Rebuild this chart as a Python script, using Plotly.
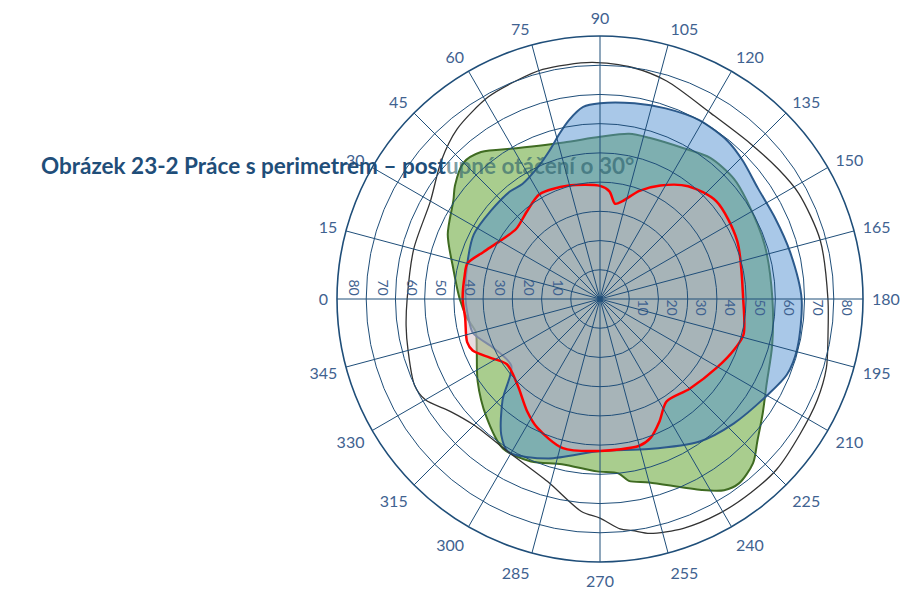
import plotly.graph_objects as go

# ---------------- data ----------------
angle_ticks = list(range(0, 360, 15))
angle_labels = [str(a) for a in angle_ticks]
radial_grid = list(range(10, 100, 10))
radial_label_pos = [14.5, 24.5, 34.5, 44.5, 54.5, 64.5, 74.5, 84.5]
radial_label_text = ["10", "20", "30", "40", "50", "60", "70", "80"]

black_theta = [0, 15, 30, 41, 50, 61, 69, 76, 88, 98, 107, 121, 134, 144, 152, 165, 180,
               189, 197, 205, 214, 224, 232, 241, 250, 258, 262, 265, 270, 275, 286, 301,
               315, 323, 330, 335, 345, 352]
black_r = [66, 66, 67, 72, 76, 79, 80, 81, 81, 80, 78, 74, 74, 75.5, 77, 78, 78,
           79, 81, 82, 82.6, 84, 84, 84, 83.5, 82, 80, 79, 75, 73, 65, 61,
           61, 64, 69, 70, 68, 67]

green_theta = [0, 12, 23, 34, 38, 45, 51, 61, 77, 90, 100, 107, 119, 128, 138, 146, 162,
               180, 195, 207, 215, 222, 227, 233, 237, 242, 255, 261, 264, 271, 283, 293,
               303, 314, 326, 338, 345, 352]
green_r = [48, 51.4, 56.6, 60.5, 63, 66, 64.7, 59, 55, 55.5, 57.4, 57.7, 59, 61.3, 61.6, 60.5, 59.3,
           59, 61, 64, 68, 72.5, 76.8, 79, 78, 74, 65, 63, 60, 59, 58, 60.4,
           61, 56, 50.5, 45.5, 44, 46]

blue_theta = [0, 15, 27, 39, 50, 56, 65, 71, 76, 80, 85, 90, 100, 109, 119, 129, 136, 145,
              155, 166, 180, 194, 202, 210, 223, 235, 252, 270, 288, 301, 306, 314, 323,
              335, 345, 352]
blue_r = [46, 47, 48.5, 48, 48, 47.5, 50, 53.5, 58, 62, 66, 67, 68, 69, 70, 69.5, 68, 66,
          66, 67, 69, 69.6, 69, 66, 62.5, 59.5, 54, 52, 57.4, 61, 57.5, 48, 38,
          40, 45, 45.5]

red_theta = [0, 10, 15, 22, 30, 40, 50, 60, 74, 90, 95, 99, 103, 110, 118, 128, 140, 157,
             180, 194, 201, 210, 225, 237, 244, 250, 255, 270, 284, 296, 303, 314, 325,
             332, 338, 342, 352]
red_r = [47, 47, 47, 43, 39.6, 37.4, 39, 41.4, 40.3, 38.7, 37, 33, 34.4, 39.4, 44, 49, 52, 51,
         49, 50.6, 49, 46.5, 43.4, 41.8, 46.5, 50.6, 52, 52, 52.6, 49, 45.8, 40.7, 38.9,
         42.7, 47, 47.8, 46.6]


def closed(t, r):
    return t + [t[0]], r + [r[0]]


fig = go.Figure()

gt, gr = closed(green_theta, green_r)
fig.add_trace(go.Scatterpolar(theta=gt, r=gr, mode="lines", fill="toself",
                              fillcolor="#a9cd8e",
                              line=dict(color="#3f6b22", width=2, shape="spline", smoothing=0.8),
                              subplot="polar", showlegend=False, hoverinfo="skip"))

bt, br = closed(blue_theta, blue_r)
fig.add_trace(go.Scatterpolar(theta=bt, r=br, mode="lines", fill="toself",
                              fillcolor="rgba(83,145,209,0.5)",
                              line=dict(color="#2c5a8c", width=2, shape="spline", smoothing=0.8),
                              subplot="polar", showlegend=False, hoverinfo="skip"))

rt, rr = closed(red_theta, red_r)
fig.add_trace(go.Scatterpolar(theta=rt, r=rr, mode="lines", fill="toself",
                              fillcolor="rgba(208,186,192,0.5)",
                              line=dict(color="#ff0000", width=2.5, shape="spline", smoothing=0.8),
                              subplot="polar", showlegend=False, hoverinfo="skip"))

kt, kr = closed(black_theta, black_r)
fig.add_trace(go.Scatterpolar(theta=kt, r=kr, mode="lines",
                              line=dict(color="#333333", width=1.3, shape="spline", smoothing=0.8),
                              subplot="polar", showlegend=False, hoverinfo="skip"))

# empty traces so the grid / label overlays are drawn (above the filled shapes)
for sp in ["polar4", "polar2", "polar3"]:
    fig.add_trace(go.Scatterpolar(theta=[0], r=[0], mode="markers",
                                  marker=dict(size=1, color="rgba(0,0,0,0)"),
                                  subplot=sp, showlegend=False, hoverinfo="skip"))

grid_col = "#1f4e79"
label_col = "#3f6290"
# page body has an 8px margin: figure is 903x586 placed at (8, 8)
W, H = 903, 586
cx, cy, rad = 592, 291, 263
dom_x = [(cx - rad) / W, (cx + rad) / W]
dom_y = [(H - cy - rad) / H, (H - cy + rad) / H]

hidden_ang = dict(rotation=180, direction="clockwise", showgrid=False,
                  showline=False, showticklabels=False, ticks="")

fig.update_layout(
    width=W, height=H,
    margin=dict(l=0, r=0, t=0, b=0),
    paper_bgcolor="white",
    showlegend=False,
    font=dict(family="Lato, Open Sans, sans-serif", color=label_col),
    polar=dict(
        domain=dict(x=dom_x, y=dom_y),
        bgcolor="white",
        angularaxis=hidden_ang,
        radialaxis=dict(range=[0, 90], showgrid=False, showticklabels=False,
                        ticks="", showline=False),
    ),
    # grid circles + spokes + angle labels (overlay, above fills)
    polar4=dict(
        domain=dict(x=dom_x, y=dom_y),
        bgcolor="rgba(0,0,0,0)",
        angularaxis=dict(rotation=180, direction="clockwise",
                         tickmode="array", tickvals=angle_ticks, ticktext=angle_labels,
                         showgrid=True, gridcolor=grid_col, gridwidth=1.3,
                         showline=True, linecolor=grid_col, linewidth=1.6,
                         ticks="outside", ticklen=5, tickcolor="rgba(0,0,0,0)",
                         tickfont=dict(size=16, color=label_col)),
        radialaxis=dict(range=[0, 90], tickmode="array", tickvals=radial_grid,
                        showgrid=True, gridcolor=grid_col, gridwidth=1.3,
                        showticklabels=False, ticks="", showline=False),
    ),
    # radial labels, right side
    polar2=dict(
        domain=dict(x=dom_x, y=dom_y),
        bgcolor="rgba(0,0,0,0)",
        angularaxis=hidden_ang,
        radialaxis=dict(range=[0, 90], angle=0, tickmode="array",
                        tickvals=radial_label_pos, ticktext=radial_label_text,
                        tickangle=90, showgrid=False, showline=False, ticks="",
                        tickfont=dict(size=14, color=label_col)),
    ),
    # radial labels, left side
    polar3=dict(
        domain=dict(x=dom_x, y=dom_y),
        bgcolor="rgba(0,0,0,0)",
        angularaxis=hidden_ang,
        radialaxis=dict(range=[0, 90], angle=180, tickmode="array",
                        tickvals=radial_label_pos, ticktext=radial_label_text,
                        tickangle=-90, showgrid=False, showline=False, ticks="",
                        tickfont=dict(size=14, color=label_col)),
    ),
)

fig.add_annotation(
    xref="paper", yref="paper", x=31 / W, y=1 - 157 / H,
    xanchor="left", yanchor="middle", showarrow=False,
    text="<b>Obrázek 23-2 Práce s perimetrem – post"
         "<span style='color:rgba(38,92,105,0.6)'>upné otáčení o 30°</span></b>",
    font=dict(family="Lato, Open Sans, sans-serif", size=22.5, color="#1f4e79"),
)

fig.write_html("out.html")
